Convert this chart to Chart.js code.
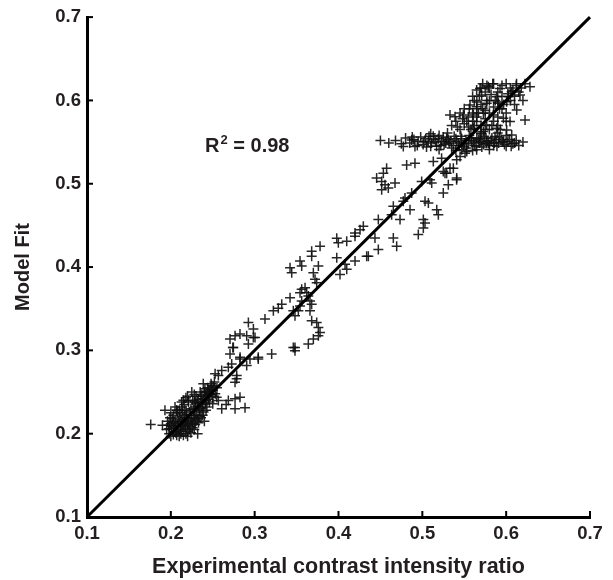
<!DOCTYPE html>
<html>
<head>
<meta charset="utf-8">
<script src="https://cdn.jsdelivr.net/npm/chart.js@4.4.1/dist/chart.umd.min.js"></script>
<style>
    body { margin: 0; background: #fff; }
</style>
</head>
<body>
<canvas id="fitChart" width="613" height="580"></canvas>
<script>
// axis labels and annotation
const xTitle = "Experimental contrast intensity ratio";
const yTitle = "Model Fit";
const r2Value = "0.98";
const r2At = [0.2408, 0.545];

// fitted identity line
const fitX = [0.1, 0.7];
const fitY = [0.1, 0.7];

// low cluster, [experimental, model]
const lowCluster = [
    [0.176, 0.211], [0.193, 0.228], [0.19, 0.21], [0.195, 0.205], [0.198, 0.2], [0.2, 0.197], [0.203, 0.199],
    [0.205, 0.203], [0.207, 0.198], [0.21, 0.197], [0.212, 0.2], [0.215, 0.198], [0.218, 0.2], [0.22, 0.197],
    [0.2, 0.212], [0.202, 0.218], [0.205, 0.215], [0.208, 0.21], [0.21, 0.22], [0.212, 0.214], [0.214, 0.208],
    [0.216, 0.222], [0.218, 0.215], [0.22, 0.21], [0.222, 0.205], [0.224, 0.218], [0.226, 0.212], [0.228, 0.222],
    [0.23, 0.215], [0.21, 0.228], [0.213, 0.232], [0.216, 0.235], [0.218, 0.228], [0.221, 0.238], [0.224, 0.23],
    [0.226, 0.24], [0.229, 0.232], [0.232, 0.238], [0.234, 0.228], [0.236, 0.245], [0.238, 0.235], [0.24, 0.25],
    [0.242, 0.24], [0.244, 0.255], [0.246, 0.248], [0.248, 0.26], [0.25, 0.252], [0.252, 0.262], [0.255, 0.255],
    [0.2, 0.225], [0.205, 0.232], [0.208, 0.225], [0.196, 0.215], [0.22, 0.245], [0.225, 0.25], [0.23, 0.245],
    [0.235, 0.25], [0.228, 0.205], [0.232, 0.218], [0.238, 0.222], [0.242, 0.228], [0.232, 0.2], [0.24, 0.215],
    [0.212, 0.205], [0.217, 0.212], [0.2209, 0.2399], [0.2288, 0.2379], [0.2129, 0.2379], [0.2069, 0.228],
    [0.2348, 0.2299], [0.2387, 0.2598], [0.2407, 0.2538], [0.2487, 0.2578], [0.2447, 0.2518], [0.2467, 0.2478],
];

// the dark core of the low cluster
const lowCore = [
    [0.198, 0.206], [0.201, 0.209], [0.204, 0.207], [0.206, 0.212], [0.209, 0.205], [0.211, 0.209], [0.213, 0.203],
    [0.215, 0.211], [0.217, 0.206], [0.219, 0.218], [0.221, 0.213], [0.223, 0.209], [0.225, 0.216], [0.227, 0.219],
    [0.229, 0.226], [0.231, 0.222], [0.233, 0.233], [0.235, 0.237], [0.237, 0.231], [0.239, 0.242], [0.241, 0.236],
    [0.243, 0.245], [0.245, 0.241], [0.247, 0.253], [0.249, 0.247], [0.251, 0.257], [0.203, 0.222], [0.207, 0.228],
    [0.211, 0.225], [0.214, 0.228], [0.219, 0.223], [0.222, 0.226], [0.227, 0.229], [0.23, 0.236], [0.233, 0.241],
    [0.237, 0.247], [0.241, 0.244], [0.244, 0.25], [0.203, 0.213], [0.206, 0.201], [0.209, 0.215], [0.213, 0.217],
    [0.217, 0.219], [0.22, 0.203], [0.224, 0.201], [0.226, 0.207], [0.229, 0.211], [0.233, 0.213], [0.236, 0.219],
    [0.239, 0.226], [0.234, 0.221], [0.197, 0.21], [0.199, 0.219], [0.215, 0.24], [0.218, 0.243], [0.228, 0.247],
    [0.243, 0.232], [0.246, 0.238], [0.25, 0.245], [0.253, 0.248],
];

// stragglers right of the low cluster
const lowRight = [
    [0.2547, 0.2438], [0.2567, 0.2399], [0.2686, 0.2399], [0.2766, 0.2419], [0.2825, 0.2438], [0.2607, 0.2299],
    [0.2766, 0.2299], [0.2885, 0.2311], [0.266, 0.235], [0.25, 0.236],
];

// middle of the range
const midRange = [
    [0.2706, 0.3135], [0.2825, 0.3195], [0.2984, 0.3155], [0.2746, 0.3035], [0.2706, 0.2956], [0.2925, 0.3075],
    [0.2825, 0.2897], [0.2944, 0.2897], [0.3043, 0.2897], [0.2726, 0.2837], [0.2686, 0.2797], [0.2607, 0.2757],
    [0.2567, 0.2697], [0.2528, 0.2718], [0.2785, 0.2658], [0.2766, 0.2618],
    [0.2925, 0.3334], [0.2985, 0.3255], [0.3004, 0.3155], [0.2905, 0.3175], [0.3123, 0.3375], [0.3223, 0.3474],
    [0.3282, 0.3506], [0.3323, 0.3554], [0.3422, 0.3633], [0.3461, 0.3474], [0.3481, 0.3414], [0.3521, 0.3474],
    [0.3541, 0.3534], [0.3561, 0.3594], [0.3541, 0.3693], [0.3561, 0.3733], [0.3601, 0.3753], [0.3621, 0.3693],
    [0.364, 0.3653], [0.366, 0.3594], [0.368, 0.3554], [0.366, 0.3474], [0.368, 0.3354], [0.374, 0.3334],
    [0.376, 0.3275], [0.378, 0.3215], [0.376, 0.3175], [0.37, 0.3135], [0.364, 0.3075], [0.3481, 0.3035],
    [0.3203, 0.2955], [0.3043, 0.2916], [0.3461, 0.3035], [0.3481, 0.2996], [0.2826, 0.2916], [0.2905, 0.2817],
    [0.2786, 0.2697], [0.274, 0.3035], [0.2766, 0.3175],
    [0.3541, 0.4072], [0.3561, 0.4012], [0.3422, 0.3992], [0.3442, 0.3932], [0.368, 0.4131], [0.368, 0.4191],
    [0.378, 0.4251], [0.376, 0.4012], [0.37, 0.3932], [0.372, 0.3853], [0.374, 0.3813],
    [0.3979, 0.4347], [0.3998, 0.4291], [0.4098, 0.4311], [0.4197, 0.441], [0.4197, 0.4371], [0.4257, 0.4449],
    [0.4296, 0.4489], [0.3979, 0.4112], [0.4078, 0.4033], [0.4098, 0.3973], [0.4018, 0.3912], [0.4197, 0.4072],
    [0.4336, 0.4131],
];

// upper middle, below the dense band
const upperMid = [
    [0.4475, 0.457], [0.4634, 0.4629], [0.4734, 0.457], [0.4654, 0.4729], [0.4773, 0.4789], [0.4793, 0.4828],
    [0.4853, 0.4689], [0.4873, 0.4888], [0.4992, 0.5028], [0.5092, 0.5048], [0.5112, 0.5008], [0.5032, 0.4789],
    [0.5072, 0.4769], [0.5172, 0.4689], [0.5191, 0.4629], [0.5012, 0.457], [0.5032, 0.453], [0.5012, 0.447],
    [0.4952, 0.4391], [0.4455, 0.5068], [0.4535, 0.5127], [0.4574, 0.5187], [0.4515, 0.5028], [0.4555, 0.4988],
    [0.4594, 0.4948], [0.4674, 0.5008], [0.4515, 0.4928], [0.4813, 0.5226], [0.4912, 0.5246], [0.5131, 0.5266],
    [0.523, 0.5306], [0.525, 0.5147], [0.527, 0.5127], [0.533, 0.5187], [0.5409, 0.5048], [0.531, 0.4988],
    [0.525, 0.4888], [0.4773, 0.5446], [0.4873, 0.5526], [0.4912, 0.5446], [0.4654, 0.435], [0.4694, 0.4251],
    [0.4475, 0.4211], [0.4356, 0.4131], [0.4435, 0.435],
    [0.529, 0.5127], [0.551, 0.5366], [0.547, 0.5407], [0.537, 0.5187], [0.541, 0.5068], [0.545, 0.5327],
    [0.541, 0.5287], [0.553, 0.5387], [0.5648, 0.5407],
];

// horizontal band near 0.55
const band = [
    [0.468, 0.552], [0.475, 0.548], [0.48, 0.555], [0.485, 0.549], [0.49, 0.553], [0.494, 0.546], [0.498, 0.556],
    [0.502, 0.55], [0.505, 0.544], [0.508, 0.557], [0.511, 0.549], [0.514, 0.553], [0.517, 0.545], [0.52, 0.558],
    [0.523, 0.551], [0.526, 0.547], [0.529, 0.555], [0.532, 0.549], [0.535, 0.543], [0.538, 0.557], [0.541, 0.551],
    [0.544, 0.546], [0.547, 0.554], [0.55, 0.549], [0.553, 0.543], [0.556, 0.558], [0.559, 0.552], [0.562, 0.546],
    [0.565, 0.555], [0.568, 0.549], [0.571, 0.544], [0.574, 0.557], [0.577, 0.551], [0.58, 0.546], [0.583, 0.555],
    [0.586, 0.549], [0.589, 0.545], [0.592, 0.556], [0.596, 0.55], [0.6, 0.545], [0.604, 0.553], [0.608, 0.548],
    [0.612, 0.552], [0.52, 0.541], [0.54, 0.54], [0.56, 0.54], [0.58, 0.541], [0.51, 0.56], [0.53, 0.561],
    [0.57, 0.562], [0.59, 0.561], [0.6, 0.558],
    [0.501, 0.547], [0.504, 0.554], [0.507, 0.551], [0.51, 0.545], [0.513, 0.557], [0.516, 0.55], [0.519, 0.554],
    [0.522, 0.546], [0.525, 0.556], [0.528, 0.549], [0.531, 0.553], [0.534, 0.551], [0.537, 0.546], [0.54, 0.554],
    [0.543, 0.549], [0.546, 0.557], [0.549, 0.545], [0.552, 0.552], [0.555, 0.548], [0.558, 0.555], [0.561, 0.55],
    [0.564, 0.545], [0.567, 0.553], [0.57, 0.551], [0.573, 0.547], [0.576, 0.555], [0.579, 0.549], [0.582, 0.552],
    [0.585, 0.546], [0.588, 0.553], [0.591, 0.549], [0.594, 0.553], [0.598, 0.547], [0.602, 0.551], [0.606, 0.545],
    [0.61, 0.549], [0.615, 0.546], [0.62, 0.55], [0.495, 0.551], [0.488, 0.556], [0.45, 0.552], [0.46, 0.549],
];

// top-right cluster
const topCluster = [
    [0.572, 0.62], [0.584, 0.62], [0.6, 0.62], [0.6124, 0.62], [0.6224, 0.62], [0.6284, 0.6163], [0.5688, 0.6143],
    [0.5648, 0.6124], [0.5708, 0.6064], [0.5787, 0.6163], [0.5927, 0.6143], [0.6066, 0.6104], [0.6165, 0.6064],
    [0.6026, 0.6044], [0.5887, 0.6044], [0.5569, 0.5945], [0.5648, 0.5925], [0.5768, 0.5965], [0.5907, 0.5965],
    [0.6006, 0.5985], [0.6126, 0.5885], [0.6225, 0.5766], [0.6046, 0.5746], [0.5967, 0.5785], [0.533, 0.5825],
    [0.539, 0.5805], [0.549, 0.5825], [0.5609, 0.5825], [0.5728, 0.5845], [0.5847, 0.5825], [0.5648, 0.5746],
    [0.5768, 0.5706], [0.5887, 0.5666], [0.6006, 0.5646], [0.6066, 0.5586], [0.5967, 0.5506], [0.5867, 0.5566],
    [0.5728, 0.5626], [0.5609, 0.5666], [0.5688, 0.5546], [0.5768, 0.5486],
    [0.545, 0.565], [0.55, 0.572], [0.555, 0.568], [0.56, 0.575], [0.565, 0.58], [0.57, 0.57], [0.575, 0.578],
    [0.58, 0.585], [0.585, 0.575], [0.59, 0.58], [0.56, 0.585], [0.565, 0.59], [0.57, 0.595], [0.575, 0.588],
    [0.58, 0.6], [0.585, 0.592], [0.59, 0.598], [0.595, 0.59], [0.6, 0.585], [0.555, 0.58], [0.55, 0.59],
    [0.545, 0.585], [0.54, 0.575], [0.535, 0.57], [0.57, 0.56], [0.58, 0.565], [0.59, 0.57], [0.6, 0.575],
    [0.562, 0.6], [0.568, 0.605], [0.575, 0.61], [0.58, 0.615], [0.59, 0.61], [0.595, 0.605], [0.605, 0.6],
    [0.61, 0.595], [0.62, 0.6], [0.585, 0.62], [0.605, 0.615], [0.615, 0.61],
    [0.553, 0.575], [0.558, 0.565], [0.562, 0.57], [0.567, 0.585], [0.572, 0.59], [0.577, 0.6], [0.582, 0.607],
    [0.587, 0.6], [0.592, 0.59], [0.597, 0.595], [0.602, 0.608], [0.608, 0.612], [0.612, 0.618], [0.618, 0.615],
    [0.575, 0.565], [0.583, 0.57], [0.593, 0.565], [0.565, 0.598], [0.56, 0.605], [0.556, 0.59], [0.548, 0.578],
    [0.542, 0.568], [0.57, 0.615], [0.577, 0.618], [0.595, 0.618], [0.61, 0.605],
];

const allPoints = [...lowCluster, ...lowCore, ...lowRight, ...midRange, ...upperMid, ...band, ...topCluster];

const ink = "#231f20";
const fontFamily = "'Liberation Sans', Arial, sans-serif";

// ticks point into the plot, like the original figure
const innerTicks = {
    id: "innerTicks",
    afterDraw(chart) {
        const { ctx, chartArea, scales } = chart;
        ctx.save();
        ctx.strokeStyle = "#000";
        ctx.lineWidth = 2;
        scales.x.ticks.forEach((t, i) => {
            const px = scales.x.getPixelForTick(i);
            ctx.beginPath();
            ctx.moveTo(px, chartArea.bottom);
            ctx.lineTo(px, chartArea.bottom - 6);
            ctx.stroke();
        });
        scales.y.ticks.forEach((t, i) => {
            const py = scales.y.getPixelForTick(i);
            ctx.beginPath();
            ctx.moveTo(chartArea.left, py);
            ctx.lineTo(chartArea.left + 6, py);
            ctx.stroke();
        });
        ctx.restore();
    },
};

const r2Label = {
    id: "r2Label",
    afterDraw(chart) {
        const { ctx, scales } = chart;
        const x = scales.x.getPixelForValue(r2At[0]);
        const y = scales.y.getPixelForValue(r2At[1]);
        ctx.save();
        ctx.fillStyle = ink;
        ctx.textBaseline = "middle";
        ctx.font = "bold 20px " + fontFamily;
        ctx.fillText("R", x, y);
        let w = ctx.measureText("R").width;
        ctx.font = "bold 13px " + fontFamily;
        ctx.fillText("2", x + w + 1, y - 6);
        w += ctx.measureText("2").width + 1;
        ctx.font = "bold 20px " + fontFamily;
        ctx.fillText(" = " + r2Value, x + w, y);
        ctx.restore();
    },
};

const chartConfig = {
    type: "scatter",
    data: {
        datasets: [
            {
                type: "line",
                data: fitX.map((x, i) => ({ x, y: fitY[i] })),
                borderColor: "#000",
                borderWidth: 3,
                pointRadius: 0,
                order: 0,
                clip: false,
            },
            {
                data: allPoints.map((p) => ({ x: p[0], y: p[1] })),
                pointStyle: "cross",
                pointRadius: 5,
                borderWidth: 1.5,
                borderColor: "rgba(15,15,15,0.9)",
                order: 1,
            },
        ],
    },
    options: {
        responsive: false,
        animation: false,
        devicePixelRatio: 1,
        layout: { padding: { top: 15, right: 23, left: 0, bottom: 0 } },
        plugins: { legend: { display: false }, tooltip: { enabled: false } },
        scales: {
            x: {
                type: "linear",
                min: 0.1,
                max: 0.7,
                afterFit: (s) => { s.height = 63; },
                grid: { display: false, drawTicks: false },
                border: { display: true, color: "#000", width: 3 },
                ticks: {
                    stepSize: 0.1,
                    padding: 6,
                    color: ink,
                    font: { family: fontFamily, size: 18.5, weight: "bold" },
                    callback: (v) => v.toFixed(1),
                },
                title: {
                    display: true,
                    text: xTitle,
                    color: ink,
                    padding: { top: 2, bottom: 0 },
                    font: { family: fontFamily, size: 21.5, weight: "bold" },
                },
            },
            y: {
                type: "linear",
                min: 0.1,
                max: 0.7,
                afterFit: (s) => { s.width = 87; },
                grid: { display: false, drawTicks: false },
                border: { display: true, color: "#000", width: 3 },
                ticks: {
                    stepSize: 0.1,
                    padding: 6,
                    color: ink,
                    font: { family: fontFamily, size: 18.5, weight: "bold" },
                    callback: (v) => v.toFixed(1),
                },
                title: {
                    display: true,
                    text: yTitle,
                    color: ink,
                    padding: { top: 11, bottom: 0 },
                    font: { family: fontFamily, size: 20, weight: "bold" },
                },
            },
        },
    },
    plugins: [innerTicks, r2Label],
};

new Chart(document.getElementById("fitChart"), chartConfig);
</script>
</body>
</html>
